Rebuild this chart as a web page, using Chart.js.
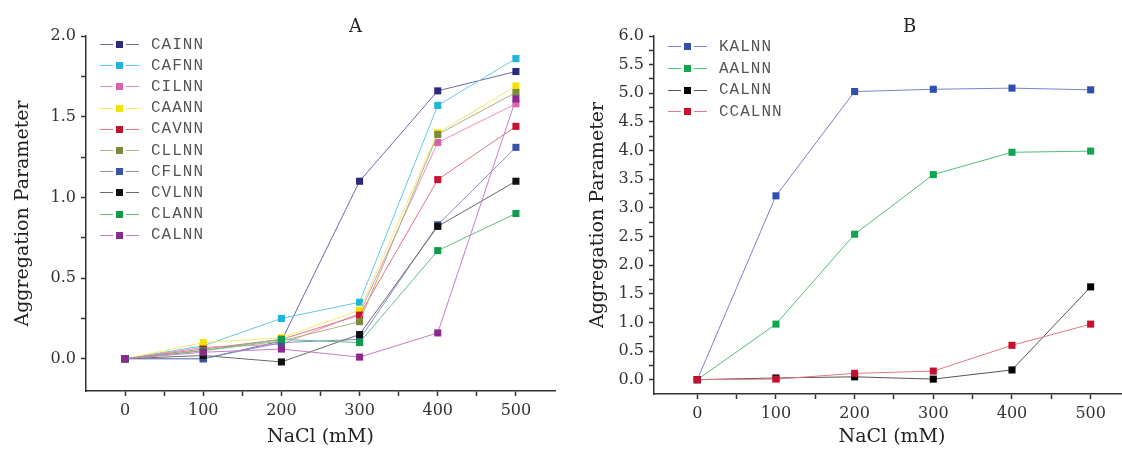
<!DOCTYPE html>
<html>
<head>
<meta charset="utf-8">
<script src="https://cdn.jsdelivr.net/npm/chart.js@4.4.1/dist/chart.umd.min.js"></script>
<style>
    html, body { margin: 0; padding: 0; background: #fff; overflow: hidden; }
    body { width: 1122px; height: 458px; position: relative; }
    canvas { position: absolute; top: 0; }
    #chart-a { left: 0; }
    #chart-b { left: 575px; }
    .panel-title { position: absolute; top: 17px; font: 18px "DejaVu Serif", serif; line-height: 18px; color: #222; }
    .legend { position: absolute; font: 16px "Liberation Mono", monospace; color: #555; letter-spacing: 1px; }
    .legend__item { display: flex; align-items: center; }
    .legend__line { position: relative; width: 39px; height: 1px; margin-right: 12px; }
    .legend__swatch { position: absolute; left: 16px; top: -3px; width: 7px; height: 7px; box-shadow: 0 0 0 3px #fff; }
</style>
</head>
<body>
<canvas id="chart-a" width="570" height="458"></canvas>
<canvas id="chart-b" width="560" height="458"></canvas>
<div class="panel-title" style="left:349px">A</div>
<div class="panel-title" style="left:903px">B</div>
<div class="legend" id="legend-a" style="left:100px; top:34px"></div>
<div class="legend" id="legend-b" style="left:668px; top:36px"></div>
<script>
// NaCl concentration (mM)
const concentrations = [0, 100, 200, 300, 400, 500];

// panel A
const cainn = [0, 0.00, 0.11, 1.10, 1.66, 1.78];
const cafnn = [0, 0.08, 0.25, 0.35, 1.57, 1.86];
const cilnn = [0, 0.07, 0.09, 0.28, 1.34, 1.58];
const caann = [0, 0.10, 0.13, 0.30, 1.40, 1.69];
const cavnn = [0, 0.06, 0.12, 0.27, 1.11, 1.44];
const cllnn = [0, 0.05, 0.11, 0.23, 1.39, 1.65];
const cflnn = [0, 0.00, 0.10, 0.12, 0.83, 1.31];
const cvlnn = [0, 0.02, -0.02, 0.15, 0.82, 1.10];
const clann = [0, 0.05, 0.12, 0.10, 0.67, 0.90];
const calnnA = [0, 0.04, 0.06, 0.01, 0.16, 1.61];

// panel B
const kalnn = [0, 3.21, 5.03, 5.07, 5.09, 5.06];
const aalnn = [0, 0.97, 2.54, 3.58, 3.97, 3.99];
const calnnB = [0, 0.03, 0.05, 0.01, 0.17, 1.62];
const ccalnn = [0, 0.01, 0.11, 0.15, 0.60, 0.97];

// ticks
const xTicks = [0, 50, 100, 150, 200, 250, 300, 350, 400, 450, 500];
const yTicksA = [0, 0.25, 0.5, 0.75, 1.0, 1.25, 1.5, 1.75, 2.0];
const yTicksB = [0, 0.25, 0.5, 0.75, 1.0, 1.25, 1.5, 1.75, 2.0, 2.25, 2.5, 2.75, 3.0, 3.25, 3.5,
    3.75, 4.0, 4.25, 4.5, 4.75, 5.0, 5.25, 5.5, 5.75, 6.0];

const axisColor = '#333';
const tickFont = { family: '"DejaVu Serif", serif', size: 16 };
const titleFont = { family: '"DejaVu Serif", serif', size: 19 };

function series(label, values, marker, line, order) {
    return {
        label,
        data: concentrations.map((x, i) => ({ x, y: values[i] })),
        borderColor: line,
        backgroundColor: marker,
        borderWidth: 1,
        pointStyle: 'rect',
        pointRadius: 5,
        pointBackgroundColor: marker,
        pointBorderColor: marker,
        pointBorderWidth: 0,
        tension: 0,
        clip: false,
        order,
    };
}

function isMultiple(v, step) {
    return Math.abs(v / step - Math.round(v / step)) < 1e-6;
}

function buildChart(canvasId, datasets, opts) {
    return new Chart(document.getElementById(canvasId).getContext('2d'), {
        type: 'line',
        data: { datasets },
        options: {
            responsive: false,
            animation: false,
            layout: { padding: { top: 36, left: 0, right: opts.rightPad, bottom: 0 } },
            plugins: { legend: { display: false }, tooltip: { enabled: false } },
            scales: {
                x: {
                    type: 'linear',
                    min: opts.xMin,
                    max: 550,
                    afterBuildTicks: (axis) => { axis.ticks = xTicks.map((v) => ({ value: v })); },
                    afterFit: (axis) => { axis.height = opts.xHeight; },
                    border: { color: axisColor, width: 1.5 },
                    grid: { drawOnChartArea: false, drawTicks: true, tickLength: 5, tickColor: axisColor, tickWidth: 1.5 },
                    ticks: {
                        autoSkip: false,
                        maxRotation: 0,
                        padding: 5,
                        color: '#333',
                        font: tickFont,
                        callback: (v) => (isMultiple(v, 100) ? String(v) : ''),
                    },
                    title: { display: true, text: 'NaCl (mM)', color: '#222', font: titleFont, padding: { top: 0, bottom: 10 } },
                },
                y: {
                    type: 'linear',
                    min: opts.yMin,
                    max: opts.yMax,
                    afterBuildTicks: (axis) => { axis.ticks = opts.yTicks.map((v) => ({ value: v })); },
                    afterFit: (axis) => { axis.width = opts.yWidth; },
                    border: { color: axisColor, width: 1.5 },
                    grid: { drawOnChartArea: false, drawTicks: true, tickLength: 5, tickColor: axisColor, tickWidth: 1.5 },
                    ticks: {
                        autoSkip: false,
                        padding: 5,
                        color: '#333',
                        font: tickFont,
                        callback: (v) => (isMultiple(v, 0.5) ? v.toFixed(1) : ''),
                    },
                    title: { display: true, text: 'Aggregation Parameter', color: '#222', font: titleFont, padding: { top: 12, bottom: 0 } },
                },
            },
        },
    });
}

function renderLegend(id, datasets, spacing) {
    const legend = document.getElementById(id);
    datasets.forEach((ds) => {
        const item = document.createElement('div');
        item.className = 'legend__item';
        item.style.height = spacing + 'px';
        const line = document.createElement('span');
        line.className = 'legend__line';
        line.style.backgroundColor = ds.borderColor;
        const swatch = document.createElement('span');
        swatch.className = 'legend__swatch';
        swatch.style.backgroundColor = ds.pointBackgroundColor;
        line.appendChild(swatch);
        const label = document.createElement('span');
        label.textContent = ds.label;
        item.appendChild(line);
        item.appendChild(label);
        legend.appendChild(item);
    });
}

// later series sit on top, as in the original plot
const datasetsA = [
    series('CAINN', cainn, '#2b2a7a', '#6b6aae', 10),
    series('CAFNN', cafnn, '#1fb4dc', '#62c9e6', 9),
    series('CILNN', cilnn, '#dc5fa8', '#e88fc2', 8),
    series('CAANN', caann, '#f2e400', '#f4ea70', 7),
    series('CAVNN', cavnn, '#c4122f', '#e27482', 6),
    series('CLLNN', cllnn, '#7d8a3c', '#b0b47a', 5),
    series('CFLNN', cflnn, '#3a52a8', '#8590c8', 4),
    series('CVLNN', cvlnn, '#111111', '#6a6a6a', 3),
    series('CLANN', clann, '#119a4a', '#62bf84', 2),
    series('CALNN', calnnA, '#8b2a8c', '#c47ec4', 1),
];

const datasetsB = [
    series('KALNN', kalnn, '#2f4fb0', '#7c80c8', 4),
    series('AALNN', aalnn, '#0fa64c', '#50bd78', 3),
    series('CALNN', calnnB, '#000000', '#555555', 2),
    series('CCALNN', ccalnn, '#c8102e', '#e27a86', 1),
];

buildChart('chart-a', datasetsA, {
    xMin: -50, yMin: -0.2, yMax: 2.0, yTicks: yTicksA, yWidth: 86, xHeight: 67, rightPad: 15,
});
buildChart('chart-b', datasetsB, {
    xMin: -55, yMin: -0.25, yMax: 6.0, yTicks: yTicksB, yWidth: 79, xHeight: 64, rightPad: 5,
});

renderLegend('legend-a', datasetsA, 21.2);
renderLegend('legend-b', datasetsB, 21.7);
</script>
</body>
</html>
